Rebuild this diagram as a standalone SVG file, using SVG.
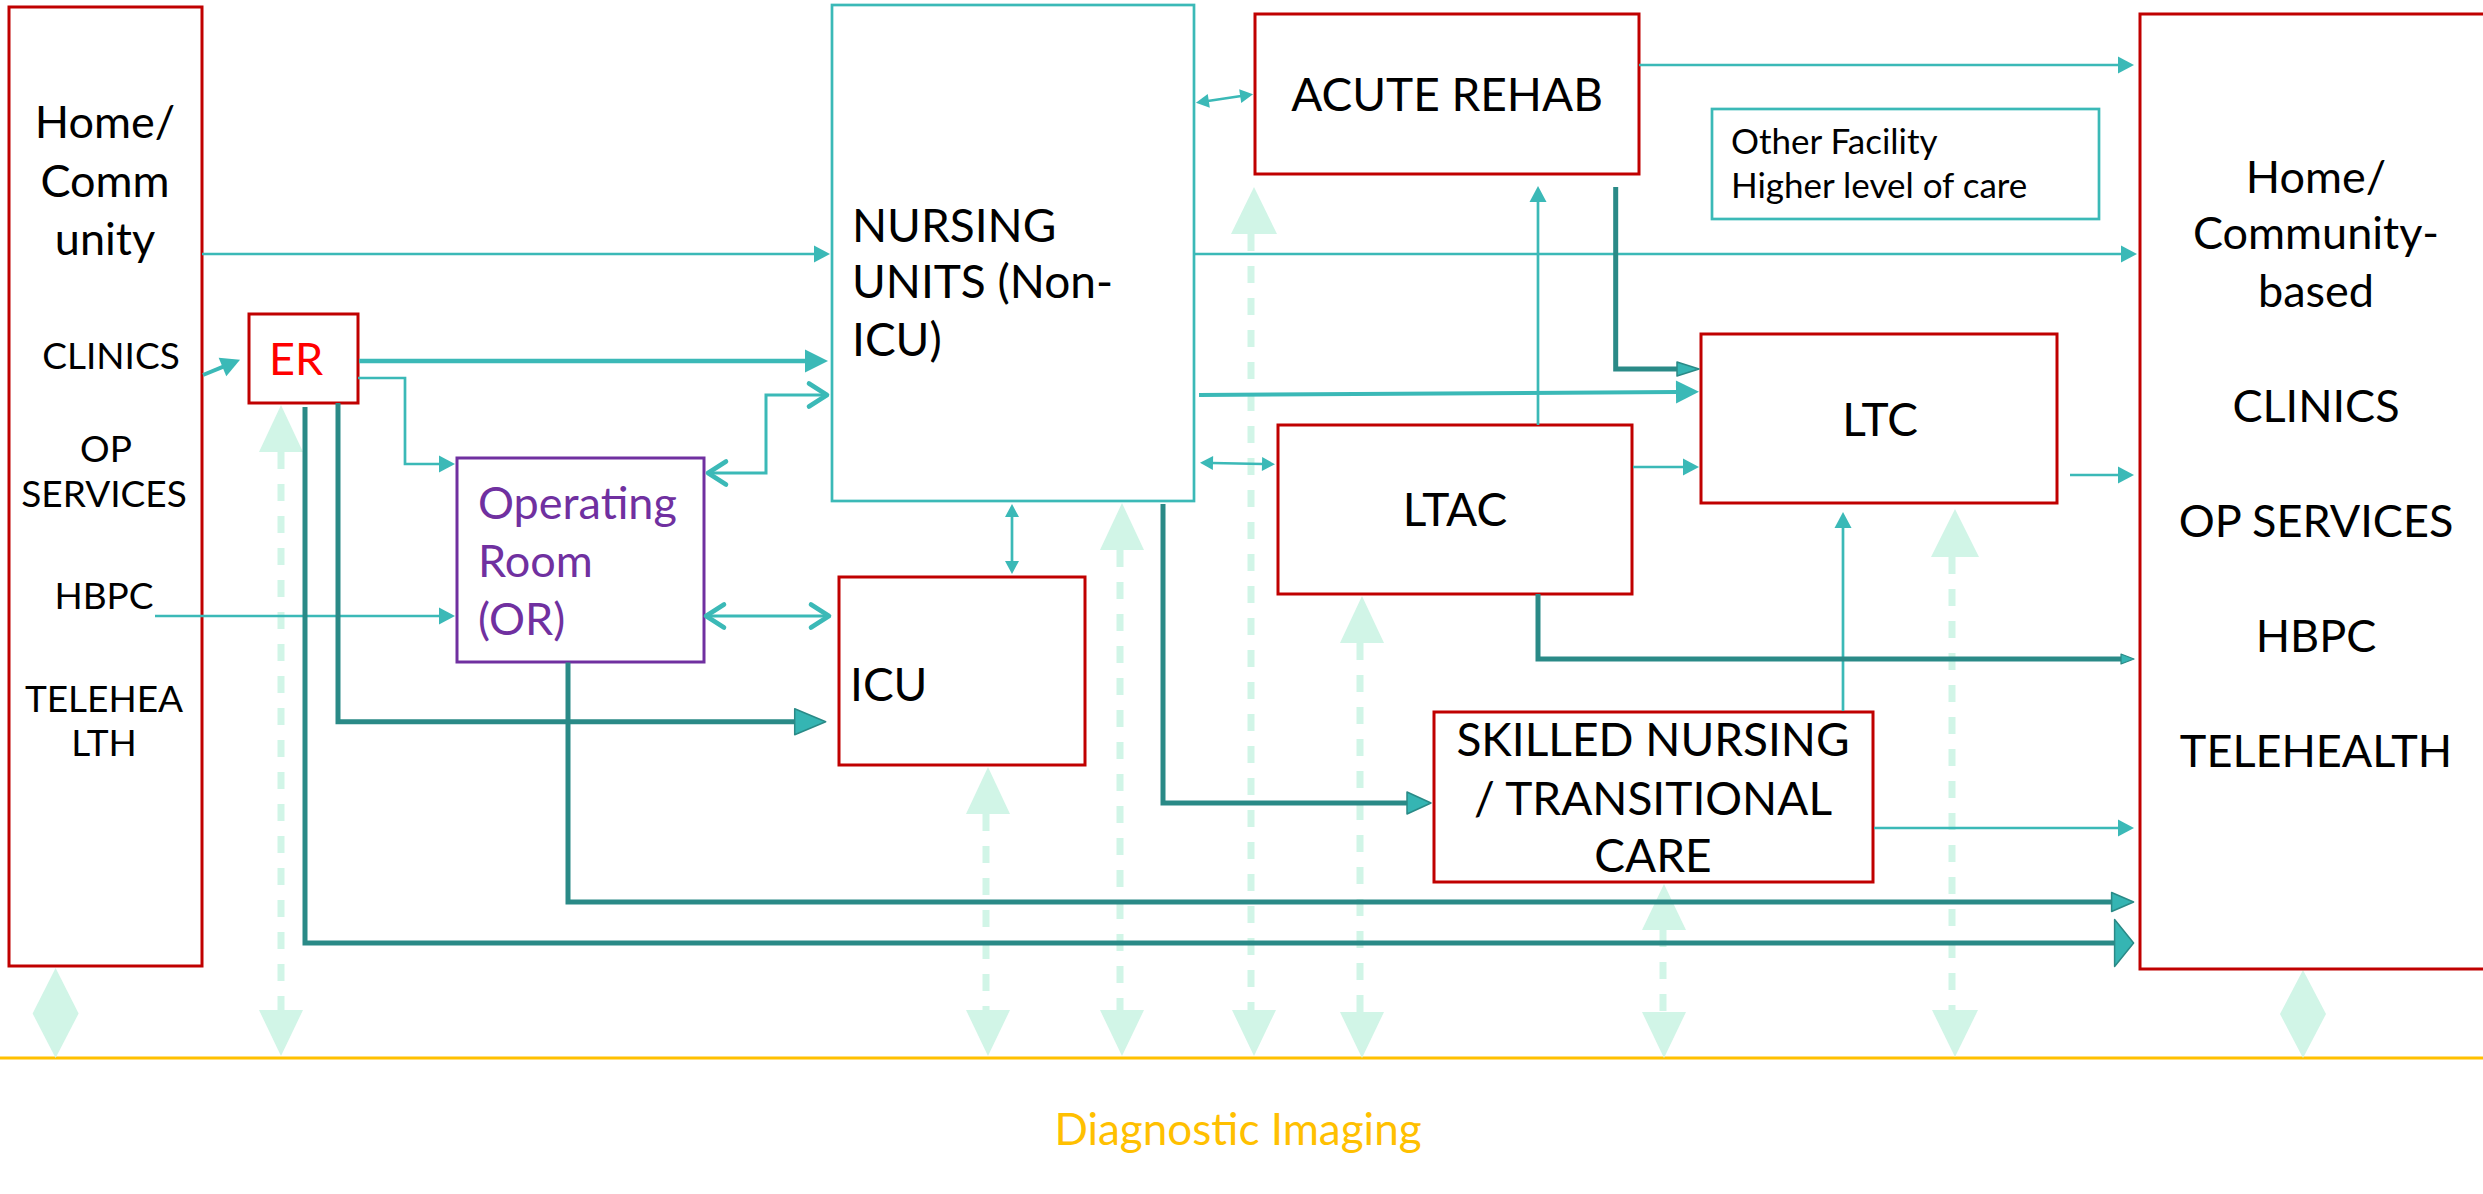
<svg xmlns="http://www.w3.org/2000/svg" width="2483" height="1194" viewBox="0 0 2483 1194">
<style>
  .bg{fill:#fff}
  .red{fill:#fff;stroke:#C00000;stroke-width:3}
  .tealbox{fill:#fff;stroke:#3BB9B7;stroke-width:2.7}
  .purp{fill:#fff;stroke:#7030A0;stroke-width:3}
  text{font-family:Lato,"Gill Sans","Liberation Sans",sans-serif;fill:#000}
  .t46{font-size:46px}
  .t45{font-size:45px}
  .t44{font-size:44px}
  .t37{font-size:37px}
  .t35{font-size:35px}
  .mid{text-anchor:middle}
  .thin{fill:none;stroke:#3BB9B7;stroke-width:2.7}
  .thick{fill:none;stroke:#3BB9B7;stroke-width:4.6}
  .chev{fill:none;stroke:#3BB9B7;stroke-width:3}
  .dark{fill:none;stroke:#2A8A87;stroke-width:5}
  .mint{fill:#D1F5E7}
  .mintdash{fill:none;stroke:#D1F5E7;stroke-width:7;stroke-dasharray:17 15}
</style>
<defs>
  <marker id="mThin" markerUnits="userSpaceOnUse" markerWidth="16" markerHeight="17" refX="1" refY="8.5" orient="auto-start-reverse" overflow="visible">
    <path d="M0,0 L16,8.5 L0,17 z" fill="#3BB9B7"/>
  </marker>
  <marker id="mSmall" markerUnits="userSpaceOnUse" markerWidth="13" markerHeight="14" refX="1" refY="7" orient="auto-start-reverse" overflow="visible">
    <path d="M0,0 L13,7 L0,14 z" fill="#3BB9B7"/>
  </marker>
  <marker id="mThick" markerUnits="userSpaceOnUse" markerWidth="23" markerHeight="23" refX="1" refY="11.5" orient="auto-start-reverse" overflow="visible">
    <path d="M0,0 L23,11.5 L0,23 z" fill="#3BB9B7"/>
  </marker>
  <marker id="mClin" markerUnits="userSpaceOnUse" markerWidth="19" markerHeight="20" refX="1" refY="10" orient="auto-start-reverse" overflow="visible">
    <path d="M0,0 L19,10 L0,20 z" fill="#3BB9B7"/>
  </marker>
  <marker id="mChev" markerUnits="userSpaceOnUse" markerWidth="22" markerHeight="26" refX="20" refY="13" orient="auto-start-reverse" overflow="visible">
    <path d="M2,1.5 L20,13 L2,24.5" fill="none" stroke="#3BB9B7" stroke-width="4.6" stroke-linecap="round" stroke-linejoin="round"/>
  </marker>
  <marker id="dBig" markerUnits="userSpaceOnUse" markerWidth="31" markerHeight="26" refX="1" refY="13" orient="auto" overflow="visible">
    <path d="M0,0 L31,13 L0,26 z" fill="#35B5B3" stroke="#2A8A87" stroke-width="1.5" stroke-linejoin="round"/>
  </marker>
  <marker id="dTall" markerUnits="userSpaceOnUse" markerWidth="19" markerHeight="47" refX="1" refY="23.5" orient="auto" overflow="visible">
    <path d="M0,0 L19,23.5 L0,47 z" fill="#35B5B3" stroke="#2A8A87" stroke-width="1.5" stroke-linejoin="round"/>
  </marker>
  <marker id="dMed" markerUnits="userSpaceOnUse" markerWidth="22" markerHeight="19" refX="1" refY="9.5" orient="auto" overflow="visible">
    <path d="M0,0 L22,9.5 L0,19 z" fill="#35B5B3" stroke="#2A8A87" stroke-width="1.5" stroke-linejoin="round"/>
  </marker>
  <marker id="dSnf" markerUnits="userSpaceOnUse" markerWidth="24" markerHeight="22" refX="1" refY="11" orient="auto" overflow="visible">
    <path d="M0,0 L24,11 L0,22 z" fill="#35B5B3" stroke="#2A8A87" stroke-width="1.5" stroke-linejoin="round"/>
  </marker>
  <marker id="dAcute" markerUnits="userSpaceOnUse" markerWidth="22" markerHeight="14" refX="1" refY="7" orient="auto" overflow="visible">
    <path d="M0,0 L22,7 L0,14 z" fill="#35B5B3" stroke="#2A8A87" stroke-width="1.5" stroke-linejoin="round"/>
  </marker>
  <marker id="dSmall" markerUnits="userSpaceOnUse" markerWidth="13" markerHeight="10" refX="1" refY="5" orient="auto" overflow="visible">
    <path d="M0,0 L13,5 L0,10 z" fill="#35B5B3" stroke="#2A8A87" stroke-width="1.2" stroke-linejoin="round"/>
  </marker>
</defs>
<rect class="bg" x="0" y="0" width="2483" height="1194"/>

<!-- Diagnostic imaging line and mint double arrows -->
<g id="imaging">
  <line x1="0" y1="1058" x2="2483" y2="1058" stroke="#FFC000" stroke-width="3"/>
  <text x="1238" y="1145" class="t44 mid" style="fill:#FFC000">Diagnostic Imaging</text>
  <polygon class="mint" points="55.6,968 78.6,1013.5 55.6,1058 32.6,1013.5"/>
  <polygon class="mint" points="2303,970 2326,1014 2303,1058 2280,1014"/>
  <g id="di-er">
    <polygon class="mint" points="281,405 303,452 259,452"/>
    <line class="mintdash" x1="281" y1="452" x2="281" y2="1010"/>
    <polygon class="mint" points="259,1010 303,1010 281,1056"/>
  </g>
  <g id="di-icu">
    <polygon class="mint" points="988,767 1010,814 966,814"/>
    <line class="mintdash" x1="986" y1="814" x2="986" y2="1010"/>
    <polygon class="mint" points="966,1010 1010,1010 988,1056"/>
  </g>
  <g id="di-nursing">
    <polygon class="mint" points="1122,503 1144,550 1100,550"/>
    <line class="mintdash" x1="1120" y1="550" x2="1120" y2="1010"/>
    <polygon class="mint" points="1100,1010 1144,1010 1122,1056"/>
  </g>
  <g id="di-rehab">
    <polygon class="mint" points="1254,187 1277,234 1231,234"/>
    <line class="mintdash" x1="1251" y1="234" x2="1251" y2="1010"/>
    <polygon class="mint" points="1232,1010 1276,1010 1254,1056"/>
  </g>
  <g id="di-ltac">
    <polygon class="mint" points="1362,596 1384,643 1340,643"/>
    <line class="mintdash" x1="1360" y1="643" x2="1360" y2="1012"/>
    <polygon class="mint" points="1340,1012 1384,1012 1362,1058"/>
  </g>
  <g id="di-snf">
    <polygon class="mint" points="1664,884 1686,930 1642,930"/>
    <line class="mintdash" x1="1663" y1="930" x2="1663" y2="1012"/>
    <polygon class="mint" points="1642,1012 1686,1012 1664,1058"/>
  </g>
  <g id="di-ltc">
    <polygon class="mint" points="1955,509 1979,557 1931,557"/>
    <line class="mintdash" x1="1952" y1="557" x2="1952" y2="1010"/>
    <polygon class="mint" points="1932,1010 1978,1010 1955,1057"/>
  </g>
</g>

<!-- Nodes -->
<g id="home-left">
  <rect class="red" x="9" y="7" width="193" height="959"/>
  <text class="t45 mid" x="105" y="138">Home/</text>
  <text class="t45 mid" x="105" y="197">Comm</text>
  <text class="t45 mid" x="105" y="255">unity</text>
  <text class="t37 mid" x="111" y="369">CLINICS</text>
  <text class="t37 mid" x="106" y="462">OP</text>
  <text class="t37 mid" x="104" y="507">SERVICES</text>
  <text class="t37 mid" x="104" y="609">HBPC</text>
  <text class="t37 mid" x="104" y="712">TELEHEA</text>
  <text class="t37 mid" x="104" y="756">LTH</text>
</g>
<g id="er">
  <rect class="red" x="249" y="314" width="109" height="89"/>
  <text class="t45" x="269" y="375" style="fill:#FF0000">ER</text>
</g>
<g id="or">
  <rect class="purp" x="457" y="458" width="247" height="204"/>
  <text class="t45" x="478" y="519" style="fill:#7030A0">Operating</text>
  <text class="t45" x="478" y="577" style="fill:#7030A0">Room</text>
  <text class="t45" x="478" y="635" style="fill:#7030A0">(OR)</text>
</g>
<g id="nursing">
  <rect class="tealbox" x="832" y="5" width="362" height="496"/>
  <text class="t46" x="852" y="242">NURSING</text>
  <text class="t46" x="852" y="298">UNITS (Non-</text>
  <text class="t46" x="852" y="356">ICU)</text>
</g>
<g id="icu">
  <rect class="red" x="839" y="577" width="246" height="188"/>
  <text class="t46" x="850" y="701">ICU</text>
</g>
<g id="acute-rehab">
  <rect class="red" x="1255" y="14" width="384" height="160"/>
  <text class="t46 mid" x="1447" y="111">ACUTE REHAB</text>
</g>
<g id="other-facility">
  <rect class="tealbox" x="1712" y="109" width="387" height="110"/>
  <text class="t35" x="1731" y="154">Other Facility</text>
  <text class="t35" x="1731" y="198">Higher level of care</text>
</g>
<g id="ltac">
  <rect class="red" x="1278" y="425" width="354" height="169"/>
  <text class="t46 mid" x="1455" y="526">LTAC</text>
</g>
<g id="ltc">
  <rect class="red" x="1701" y="334" width="356" height="169"/>
  <text class="t46 mid" x="1880" y="436">LTC</text>
</g>
<g id="snf">
  <rect class="red" x="1434" y="712" width="439" height="170"/>
  <text class="t46 mid" x="1653" y="756">SKILLED NURSING</text>
  <text class="t46 mid" x="1653" y="815">/ TRANSITIONAL</text>
  <text class="t46 mid" x="1653" y="872">CARE</text>
</g>
<g id="home-right">
  <rect class="red" x="2140" y="14" width="360" height="955"/>
  <text class="t45 mid" x="2316" y="193">Home/</text>
  <text class="t45 mid" x="2316" y="249">Community-</text>
  <text class="t45 mid" x="2316" y="307">based</text>
  <text class="t45 mid" x="2316" y="422">CLINICS</text>
  <text class="t45 mid" x="2316" y="537">OP SERVICES</text>
  <text class="t45 mid" x="2316" y="652">HBPC</text>
  <text class="t45 mid" x="2316" y="767">TELEHEALTH</text>
</g>

<!-- Connectors -->
<g id="connectors">
  <path class="thin" d="M202,254 H815" marker-end="url(#mThin)"/>
  <path class="thin" d="M1194,254 H2122" marker-end="url(#mThin)"/>
  <path class="thin" d="M1639,65 H2119" marker-end="url(#mThin)"/>
  <path class="thin" d="M1633,467 H1684" marker-end="url(#mThin)"/>
  <path class="thin" d="M2070,475 H2119" marker-end="url(#mThin)"/>
  <path class="thin" d="M1874,828 H2119" marker-end="url(#mThin)"/>
  <path class="thin" d="M155,616 H440" marker-end="url(#mThin)"/>
  <path class="thin" d="M358,378 H405 V464 H440" marker-end="url(#mThin)"/>
  <path class="thin" d="M1538,425 V201" marker-end="url(#mThin)"/>
  <path class="thin" d="M1843,711 V527" marker-end="url(#mThin)"/>
  <path class="thin" d="M1207.8,101 L1241.2,96" marker-start="url(#mSmall)" marker-end="url(#mSmall)"/>
  <path class="thin" d="M1012,516 V562" marker-start="url(#mSmall)" marker-end="url(#mSmall)"/>
  <path class="thin" d="M1212,463 L1263,464" marker-start="url(#mSmall)" marker-end="url(#mSmall)"/>
  <path class="chev" d="M708,473 H766 V395 H827" marker-start="url(#mChev)" marker-end="url(#mChev)"/>
  <path class="chev" d="M706,616 H829" marker-start="url(#mChev)" marker-end="url(#mChev)"/>
  <path class="thick" d="M359,361 H806" marker-end="url(#mThick)"/>
  <path class="thick" style="stroke-width:4" d="M1199,395 L1677,392" marker-end="url(#mThick)"/>
  <path class="thick" style="stroke-width:4" d="M203,375 L223.4,366.6" marker-end="url(#mClin)"/>
  <path class="dark" d="M338,403 V721.7 H795.7" marker-end="url(#dBig)"/>
  <path class="dark" d="M305,407 V943 H2115.6" marker-end="url(#dTall)"/>
  <path class="dark" d="M568,662.5 V902 H2112.6" marker-end="url(#dMed)"/>
  <path class="dark" d="M1163,504 V803 H1408" marker-end="url(#dSnf)"/>
  <path class="dark" d="M1538,594 V659 H2122" marker-end="url(#dSmall)"/>
  <path class="dark" d="M1615.7,187 V369 H1678" marker-end="url(#dAcute)"/>
</g>
</svg>
